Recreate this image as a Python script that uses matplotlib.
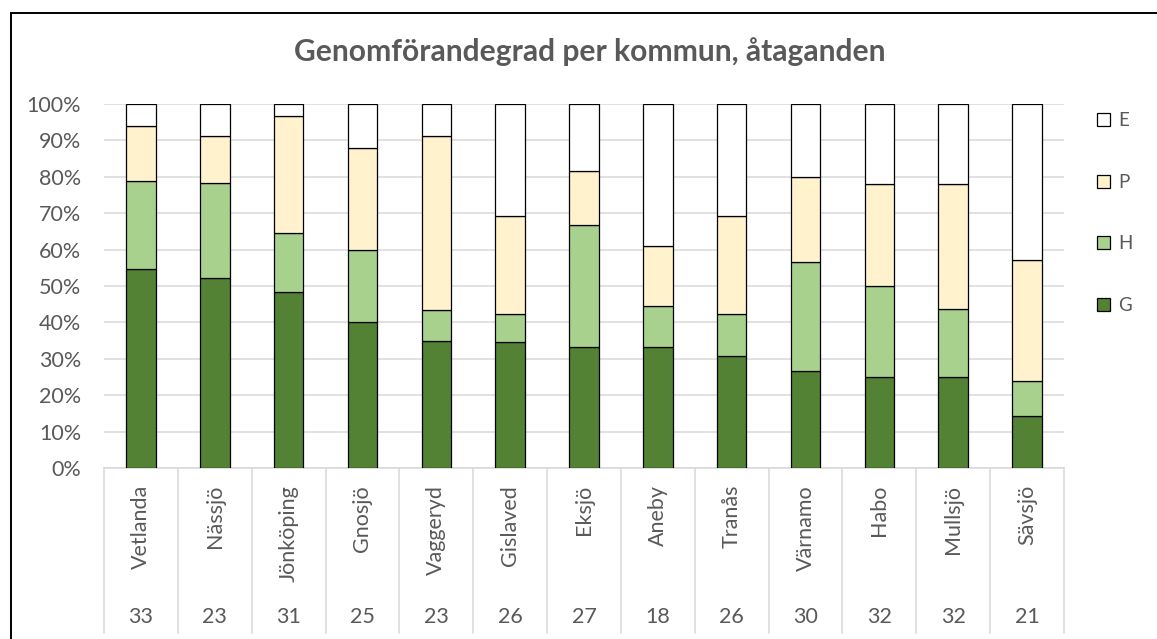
import matplotlib
matplotlib.use("Agg")
import matplotlib.pyplot as plt
import matplotlib.transforms as mtransforms
from matplotlib.lines import Line2D
import numpy as np

# ---- data (counts per municipality and grade) ----
names = ["Vetlanda", "Nässjö", "Jönköping", "Gnosjö", "Vaggeryd", "Gislaved", "Eksjö",
         "Aneby", "Tranås", "Värnamo", "Habo", "Mullsjö", "Sävsjö"]
totals = [33, 23, 31, 25, 23, 26, 27, 18, 26, 30, 32, 32, 21]
G = [18, 12, 15, 10, 8, 9, 9, 6, 8, 8, 8, 8, 3]
H = [8, 6, 5, 5, 2, 2, 9, 2, 3, 9, 8, 6, 2]
P = [5, 3, 10, 7, 11, 7, 4, 3, 7, 7, 9, 11, 7]
E = [2, 2, 1, 3, 2, 8, 5, 7, 8, 6, 7, 7, 9]
series_names = ["G", "H", "P", "E"]
colors = {"G": "#548235", "H": "#A9D18E", "P": "#FFF2CC", "E": "#FFFFFF"}
yticks = [0, 0.1, 0.2, 0.3, 0.4, 0.5, 0.6, 0.7, 0.8, 0.9, 1.0]
title = "Genomförandegrad per kommun, åtaganden"

W, Hpx = 1157, 639
plt.rcParams['font.family'] = ['Lato', 'DejaVu Sans']
grey = "#595959"
fig = plt.figure(figsize=(W / 100, Hpx / 100), dpi=100)

def fx(px):
    return px / W

def fy(py):
    return 1 - py / Hpx

ax_left, ax_right, ax_top, ax_bot = 104, 1064, 104, 468
ax = fig.add_axes([fx(ax_left), fy(ax_bot), fx(ax_right - ax_left), (ax_bot - ax_top) / Hpx])

tot = np.array(totals, dtype=float)
x = np.arange(len(names))
data = {"G": G, "H": H, "P": P, "E": E}
bottom = np.zeros(len(names))
handles = {}
for s in series_names:
    vals = np.array(data[s]) / tot
    b = ax.bar(x, vals, width=0.4, bottom=bottom, color=colors[s], edgecolor="black",
               linewidth=0.9, zorder=3, label=s)
    handles[s] = b
    bottom += vals

ax.set_xlim(-0.5, len(names) - 0.5)
ax.set_ylim(0, 1)
ax.set_yticks(yticks)
ax.set_yticklabels([f"{int(round(t * 100))}%" for t in yticks])
ax.tick_params(axis='y', length=0, pad=16.5, labelsize=15.5, labelcolor=grey)
ax.set_xticks([])
for sp in ["left", "right", "top"]:
    ax.spines[sp].set_visible(False)
ax.spines["bottom"].set_color("#D9D9D9")
ax.spines["bottom"].set_linewidth(1.1)
ax.grid(axis='y', color="#D9D9D9", linewidth=1.1, zorder=0)
ax.set_axisbelow(True)

# multi-level category axis
trans = mtransforms.blended_transform_factory(ax.transData, fig.transFigure)
for i in range(len(names) + 1):
    ax.add_line(Line2D([i - 0.5, i - 0.5], [fy(ax_bot), fy(633)], transform=trans,
                       color="#D9D9D9", linewidth=1.1, clip_on=False))
for i, (n, t) in enumerate(zip(names, totals)):
    ax.text(i, fy(485), n, transform=trans, rotation=90, ha="center", va="top",
            fontsize=15.5, color=grey)
    ax.text(i, fy(617), str(t), transform=trans, ha="center", va="center",
            fontsize=15.5, color=grey)

# title
fig.text(fx(590), fy(52), title, ha="center", va="center", fontsize=21.6,
         fontweight="bold", color=grey)

# legend
order = ["E", "P", "H", "G"]
leg = fig.legend([handles[s] for s in order], order, loc="upper left",
                 bbox_to_anchor=(fx(1097), fy(112)), frameon=False,
                 fontsize=13.5, labelcolor=grey, handlelength=0.7, handleheight=0.7,
                 handletextpad=0.45, labelspacing=2.38, borderpad=0, borderaxespad=0)

# chart frame
fig.add_artist(Line2D([fx(11), fx(11)], [fy(12.5), 0], transform=fig.transFigure,
                      color="black", linewidth=1.4))
fig.add_artist(Line2D([fx(11), 1], [fy(12.5), fy(12.5)], transform=fig.transFigure,
                      color="black", linewidth=1.4))

fig.savefig("out.png", dpi=100, facecolor="white")
